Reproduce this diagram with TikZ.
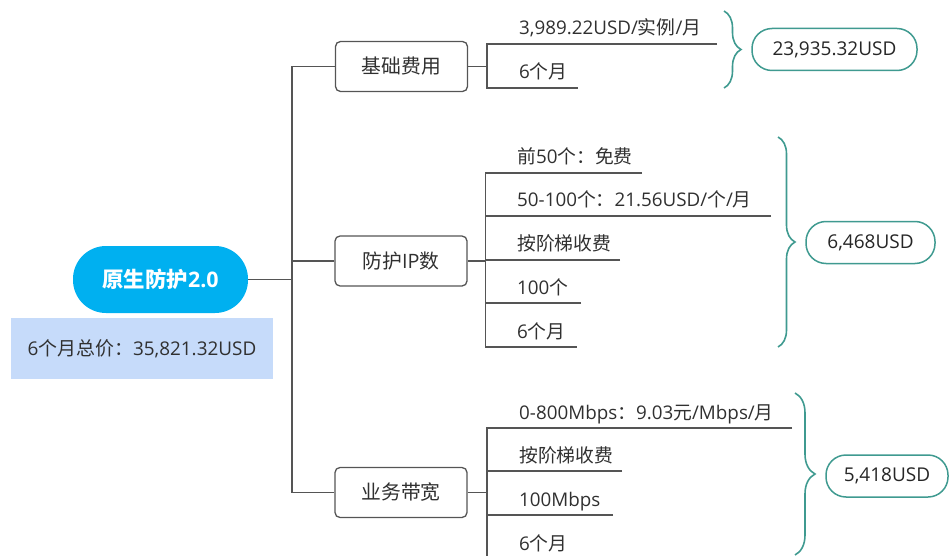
\documentclass[tikz,border=0pt]{standalone}
\usepackage{fontspec}
\setmainfont{Open Sans}
\newfontfamily\zhfont{Noto Sans CJK SC}
\newcommand{\zh}[1]{{\zhfont #1}}
\usetikzlibrary{decorations.pathreplacing}
\definecolor{rootblue}{HTML}{00B0F0}
\definecolor{totalblue}{HTML}{C6DBFA}
\definecolor{sumteal}{HTML}{3F9A90}
\definecolor{wire}{HTML}{555555}
\definecolor{ink}{HTML}{303030}
\tikzset{%
  root/.style  = {shape=rectangle, rounded corners=33pt, fill=rootblue,%
                  text=white, font=\fontsize{21.4}{25}\selectfont\bfseries,%
                  minimum width=175pt, minimum height=67pt},%
  total/.style = {shape=rectangle, fill=totalblue, text=ink,%
                  font=\fontsize{18.9}{22}\selectfont,%
                  minimum width=262pt, minimum height=61pt},%
  item/.style  = {shape=rectangle, rounded corners=5pt, draw=wire,%
                  line width=1.3pt, text=ink, font=\fontsize{19.8}{23}\selectfont,%
                  minimum width=132pt, minimum height=50pt},%
  leaf/.style  = {anchor=base west, inner sep=0pt, text=ink,%
                  font=\fontsize{18.8}{22}\selectfont},%
  sum/.style   = {shape=rectangle, rounded corners=20pt, draw=sumteal,%
                  line width=1.5pt, text=black!85, font=\fontsize{19}{22}\selectfont,%
                  minimum height=42pt},%
  link/.style  = {draw=wire, line width=1.6pt},%
  curly/.style = {draw=sumteal, line width=1.6pt, decorate,%
                  decoration={brace,amplitude=17pt}}%
}
\begin{document}
\begin{tikzpicture}[x=1pt,y=-1pt]
	\useasboundingbox (0,0) rectangle (950,556);
	\clip (0,0) rectangle (950,556);
	\node [root] (root) at (160.5,279.5) {\zh{原生防护}2.0};
	\node [total] (total) at (142,348.5) {6\zh{个月总价：}35,821.32USD};
	\coordinate (trunk) at (292,279.5);
	\node [item] (base) at (401.5,66.5) {\zh{基础费用}};
	\node [item] (ip) at (401,261) {\zh{防护}IP\zh{数}};
	\node [item] (bw) at (401,492.5) {\zh{业务带宽}};
	\draw [link] (root) -- (trunk);
	\draw [link] (base) -- (base -| trunk) -- (bw -| trunk) -- (bw);
	\draw [link] (ip) -- (ip -| trunk);
	% base fee
	\coordinate (baseJ) at (487,66.5);
	\node [leaf] (base1) at (519,35) {3,989.22USD/\zh{实例}/\zh{月}};
	\node [leaf] (base2) at (519,79) {6\zh{个月}};
	\coordinate (base1e) at (717,44);
	\coordinate (base2e) at (578,88);
	\draw [link] (base) -- (baseJ);
	\draw [link] (base1e) -- (base1e -| baseJ) -- (base2e -| baseJ) -- (base2e);
	% protected ips
	\coordinate (ipJ) at (485.5,261);
	\node [leaf] (ip1) at (517,164) {\zh{前}50\zh{个：免费}};
	\node [leaf] (ip2) at (517,207) {50-100\zh{个：}21.56USD/\zh{个}/\zh{月}};
	\node [leaf] (ip3) at (517,251) {\zh{按阶梯收费}};
	\node [leaf] (ip4) at (517,294) {100\zh{个}};
	\node [leaf] (ip5) at (517,338) {6\zh{个月}};
	\coordinate (ip1e) at (642,173);
	\coordinate (ip2e) at (771,216);
	\coordinate (ip3e) at (620,260);
	\coordinate (ip4e) at (581,303);
	\coordinate (ip5e) at (577,347);
	\draw [link] (ip) -- (ipJ);
	\draw [link] (ip1e) -- (ip1e -| ipJ) -- (ip5e -| ipJ) -- (ip5e);
	\draw [link] (ip2e) -- (ip2e -| ipJ) (ip3e) -- (ip3e -| ipJ) (ip4e) -- (ip4e -| ipJ);
	% bandwidth
	\coordinate (bwJ) at (487,492.5);
	\node [leaf] (bw1) at (519,419) {0-800Mbps\zh{：}9.03\zh{元}/Mbps/\zh{月}};
	\node [leaf] (bw2) at (519,462) {\zh{按阶梯收费}};
	\node [leaf] (bw3) at (519,506) {100Mbps};
	\node [leaf] (bw4) at (519,550) {6\zh{个月}};
	\coordinate (bw1e) at (792,428);
	\coordinate (bw2e) at (622,471);
	\coordinate (bw3e) at (613,515);
	\coordinate (bw4e) at (578,559);
	\draw [link] (bw) -- (bwJ);
	\draw [link] (bw1e) -- (bw1e -| bwJ) -- (bw4e -| bwJ) -- (bw4e);
	\draw [link] (bw2e) -- (bw2e -| bwJ) (bw3e) -- (bw3e -| bwJ);
	% sums
	\coordinate (c1a) at (724,11);  \coordinate (c1b) at (724,88);
	\coordinate (c2a) at (778,137); \coordinate (c2b) at (778,347);
	\coordinate (c3a) at (795,393); \coordinate (c3b) at (795,555);
	\draw [curly] (c1a) -- (c1b);
	\draw [curly] (c2a) -- (c2b);
	\draw [curly,decoration={amplitude=20pt}] (c3a) -- (c3b);
	\node [sum,minimum width=165pt] (s1) at (834.5,49.5) {23,935.32USD};
	\node [sum,minimum width=129pt] (s2) at (870.5,242.5) {6,468USD};
	\node [sum,minimum width=122pt] (s3) at (887,476) {5,418USD};
\end{tikzpicture}
\end{document}
